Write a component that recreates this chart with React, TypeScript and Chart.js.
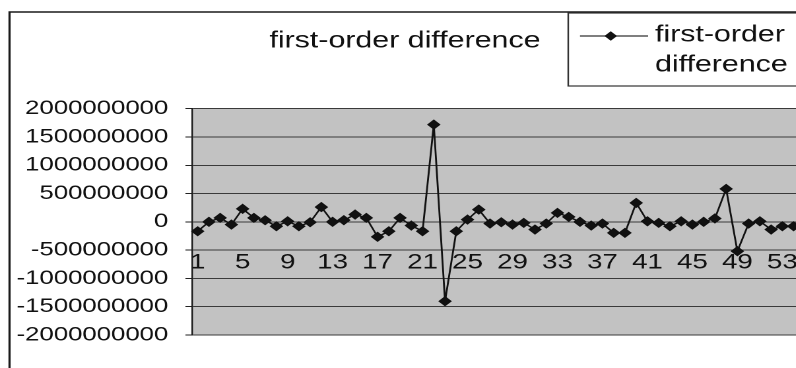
import React, { useEffect, useRef } from 'react';
import { Chart, registerables } from 'chart.js';

Chart.register(...registerables);

// ---- data ----
const chartTitle = 'first-order difference';
const seriesName = 'first-order difference';
const categories = [
  '1', '2', '3', '4', '5', '6', '7', '8', '9', '10',
  '11', '12', '13', '14', '15', '16', '17', '18', '19', '20',
  '21', '22', '23', '24', '25', '26', '27', '28', '29', '30',
  '31', '32', '33', '34', '35', '36', '37', '38', '39', '40',
  '41', '42', '43', '44', '45', '46', '47', '48', '49', '50',
  '51', '52', '53', '54',
];
const values = [
  -166000000, 0, 70000000, -48000000, 230000000, 70000000, 28000000, -78000000, 10000000, -78000000,
  -7000000, 261000000, 0, 30000000, 129000000, 70000000, -265000000, -166000000, 70000000, -65000000,
  -166000000, 1719000000, -1403000000, -166000000, 40000000, 217000000, -30000000, -7000000, -48000000, -18000000,
  -136000000, -30000000, 159000000, 88000000, 0, -65000000, -30000000, -195000000, -195000000, 335000000,
  10000000, -18000000, -78000000, 10000000, -48000000, 0, 60000000, 583000000, -519000000, -30000000,
  10000000, -136000000, -78000000, -78000000,
];
const yMin = -2000000000;
const yMax = 2000000000;
const yStep = 500000000;
const xAxisCross = -500000000;
const labelEvery = 4;

// ---- layout (logical canvas units; canvas is stretched horizontally) ----
const SX = 1.32;
const W = 622;
const H = 368;
const FONT = "'Liberation Sans', Arial, sans-serif";

const framePlugin = {
  id: 'excelFrame',
  beforeDraw(chart: any) {
    const { ctx, chartArea: a } = chart;
    ctx.save();
    ctx.fillStyle = '#ffffff';
    ctx.fillRect(0, 0, chart.width, chart.height);
    ctx.fillStyle = '#c2c2c2';
    ctx.fillRect(a.left, a.top, a.right - a.left, a.bottom - a.top);
    ctx.restore();
  },
  afterDraw(chart: any) {
    const { ctx } = chart;
    ctx.save();
    // outer chart border
    ctx.strokeStyle = '#1a1a1a';
    ctx.lineWidth = 1.6;
    ctx.beginPath();
    ctx.moveTo(7.2, H + 5);
    ctx.lineTo(7.2, 12);
    ctx.lineTo(W + 5, 12);
    ctx.stroke();

    // title
    ctx.fillStyle = '#111';
    ctx.font = `23px ${FONT}`;
    ctx.textAlign = 'center';
    ctx.textBaseline = 'alphabetic';
    ctx.fillText(chartTitle, 306.8, 47.3);

    // legend box
    const ds = chart.data.datasets[0];
    ctx.strokeStyle = '#333';
    ctx.lineWidth = 1.2;
    ctx.strokeRect(430.5, 13, W + 10 - 430.5, 86 - 13);
    // legend sample line + diamond
    ctx.strokeStyle = '#333';
    ctx.lineWidth = 1.2;
    ctx.beginPath();
    ctx.moveTo(439.4, 36);
    ctx.lineTo(491, 36);
    ctx.stroke();
    ctx.fillStyle = '#111';
    ctx.beginPath();
    const cx = 462.7, cy = 36, r = 4.8;
    ctx.moveTo(cx, cy - r);
    ctx.lineTo(cx + r, cy);
    ctx.lineTo(cx, cy + r);
    ctx.lineTo(cx - r, cy);
    ctx.closePath();
    ctx.fill();
    // legend text (wrapped)
    const words = String(ds.label).split(' ');
    ctx.fillStyle = '#111';
    ctx.font = `23px ${FONT}`;
    ctx.textAlign = 'left';
    ctx.fillText(words[0], 496.2, 41.7);
    ctx.fillText(words.slice(1).join(' '), 496.2, 71.7);
    ctx.restore();
  },
};

export default function App() {
  const ref = useRef<HTMLCanvasElement | null>(null);

  useEffect(() => {
    if (!ref.current) return;
    const chart = new Chart(ref.current, {
      type: 'line',
      data: {
        labels: categories,
        datasets: [
          {
            label: seriesName,
            data: values,
            borderColor: '#111',
            borderWidth: 1.4,
            backgroundColor: '#111',
            pointStyle: 'rectRot',
            pointRadius: 4.6,
            pointBorderWidth: 0.8,
            pointBackgroundColor: '#111',
            pointBorderColor: '#111',
            tension: 0,
            fill: false,
          },
        ],
      },
      options: {
        responsive: false,
        animation: false,
        devicePixelRatio: 2,
        events: [],
        layout: { padding: { left: 0, right: W - 605.5, top: 108.7, bottom: H - 335 } },
        plugins: {
          legend: { display: false },
          title: { display: false },
          tooltip: { enabled: false },
        },
        scales: {
          x: {
            type: 'category',
            offset: true,
            position: { y: xAxisCross } as any,
            grid: { display: false, drawTicks: false },
            border: { display: false },
            ticks: {
              autoSkip: false,
              maxRotation: 0,
              minRotation: 0,
              padding: 0,
              color: '#111',
              font: { family: FONT, size: 21 },
              callback: (_v: any, i: number) => (i % labelEvery === 0 ? categories[i] : ''),
            },
          },
          y: {
            type: 'linear',
            position: 'left',
            min: yMin,
            max: yMax,
            afterFit: (scale: any) => {
              scale.width = 145.5;
            },
            grid: {
              color: '#3a3a3a',
              lineWidth: 1,
              drawTicks: true,
              tickLength: 5,
              tickColor: '#222',
            },
            border: { display: true, color: '#1a1a1a', width: 1.2 },
            ticks: {
              stepSize: yStep,
              padding: 13,
              color: '#111',
              font: { family: FONT, size: 19.5 },
              callback: (v: any) => String(v),
            },
          },
        },
      },
      plugins: [framePlugin],
    });
    return () => chart.destroy();
  }, []);

  return (
    <div
      style={{
        position: 'fixed',
        left: 0,
        top: 0,
        width: 796,
        height: 368,
        overflow: 'hidden',
        background: '#fff',
      }}
    >
      <canvas
        ref={ref}
        width={W}
        height={H}
        style={{ display: 'block', width: `${W * SX}px`, height: `${H}px` }}
      />
    </div>
  );
}
